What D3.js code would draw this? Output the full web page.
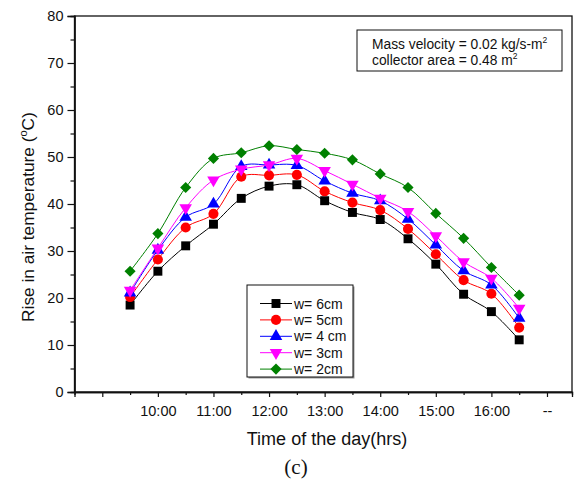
<!DOCTYPE html>
<html>
<head>
<meta charset="utf-8">
<script src="https://cdn.jsdelivr.net/npm/d3@7"></script>
<style>
  body { margin: 0; background: #fff; }
  text { font-family: Arial, "Liberation Sans", sans-serif; fill: #111; }
</style>
</head>
<body>
<div class="graph-center"></div>
<script>
// data (hours of the day, rise in air temperature in C)
let hours = [9.5, 10, 10.5, 11, 11.5, 12, 12.5, 13, 13.5, 14, 14.5, 15, 15.5, 16, 16.5]
let w6 = [18.5, 25.7, 31.1, 35.7, 41.2, 43.8, 44.1, 40.7, 38.2, 36.7, 32.6, 27.2, 20.8, 17.1, 11.1]
let w5 = [20.2, 28.2, 35.0, 37.9, 45.8, 46.1, 46.2, 42.7, 40.3, 38.7, 34.7, 29.3, 23.8, 20.9, 13.7]
let w4 = [21.1, 30.2, 37.2, 40.0, 48.0, 48.3, 48.2, 44.9, 42.3, 40.7, 36.8, 31.3, 25.8, 22.8, 15.7]
let w3 = [21.6, 30.6, 39.2, 45.1, 47.4, 48.3, 49.7, 47.1, 44.2, 41.2, 38.4, 33.2, 27.7, 24.2, 17.8]
let w2 = [25.7, 33.7, 43.5, 49.7, 50.9, 52.4, 51.6, 50.8, 49.4, 46.4, 43.5, 38.0, 32.7, 26.5, 20.6]

let seriesNames = ["w= 6cm", "w= 5cm", "w= 4 cm", "w= 3cm", "w= 2cm"]
let seriesValues = [w6, w5, w4, w3, w2]
let seriesColors = ["#000000", "#ff0000", "#0000ff", "#ff00ff", "#008000"]
let seriesShapes = ["square", "circle", "triangle", "triangleDown", "diamond"]

let xTickValues = [9, 10, 11, 12, 13, 14, 15, 16, 17]
let xTickLabels = ["", "10:00", "11:00", "12:00", "13:00", "14:00", "15:00", "16:00", "--"]
let yTickValues = [0, 10, 20, 30, 40, 50, 60, 70, 80]

let svgWidth = 579
let svgHeight = 484

// plot box in pixels
let plot = { left: 74.5, right: 572, top: 16, bottom: 392 }

let svg = d3.select('.graph-center')
    .append('svg')
    .attr('width', svgWidth)
    .attr('height', svgHeight)

// scales
let xScale = d3.scaleLinear()
    .domain([8.5, 17.45])
    .range([plot.left, plot.right])
let yScale = d3.scaleLinear()
    .domain([0, 80])
    .range([plot.bottom, plot.top])

// frame
svg.append('rect')
    .attr('x', plot.left)
    .attr('y', plot.top)
    .attr('width', plot.right - plot.left)
    .attr('height', plot.bottom - plot.top)
    .attr('fill', 'none')
    .attr('stroke', '#111')
    .attr('stroke-width', 1.3)

// axes
let xAxis = d3.axisBottom(xScale)
    .tickValues(xTickValues)
    .tickFormat((d, i) => xTickLabels[i])
    .tickSize(5)
    .tickPadding(9)
let xMinor = d3.axisBottom(xScale)
    .tickValues(d3.range(9.5, 17.4, 1))
    .tickFormat('')
    .tickSize(3)
let yAxis = d3.axisLeft(yScale)
    .tickValues(yTickValues)
    .tickSize(7)
    .tickPadding(4)
let yMinor = d3.axisLeft(yScale)
    .tickValues(d3.range(5, 80, 10))
    .tickFormat('')
    .tickSize(4)

svg.append('g')
    .attr('id', 'x-axis')
    .attr('transform', `translate(0,${plot.bottom})`)
    .call(xAxis)
svg.append('g')
    .attr('transform', `translate(0,${plot.bottom})`)
    .call(xMinor)
svg.append('g')
    .attr('id', 'y-axis')
    .attr('transform', `translate(${plot.left},0)`)
    .call(yAxis)
svg.append('g')
    .attr('transform', `translate(${plot.left},0)`)
    .call(yMinor)

svg.selectAll('.domain').attr('stroke', '#111').attr('stroke-width', 1.3)
svg.selectAll('.tick line').attr('stroke', '#111').attr('stroke-width', 1.2)
svg.selectAll('.tick text')
    .attr('font-size', 14.5)
    .attr('font-family', 'Arial, "Liberation Sans", sans-serif')
    .attr('fill', '#111')

// marker paths
function markerPath(shape) {
    if (shape === 'square') return d3.symbol(d3.symbolSquare, 80)()
    if (shape === 'circle') return d3.symbol(d3.symbolCircle, 80)()
    if (shape === 'triangle' || shape === 'triangleDown') return d3.symbol(d3.symbolTriangle, 68)()
    return d3.symbol(d3.symbolSquare, 62)()
}
function markerRotate(shape) {
    if (shape === 'triangleDown') return 180
    if (shape === 'diamond') return 45
    return 0
}

let line = d3.line()
    .x((d, i) => xScale(hours[i]))
    .y(d => yScale(d))
    .curve(d3.curveCatmullRom.alpha(0.5))

seriesValues.forEach((vals, s) => {
    let g = svg.append('g')
    g.append('path')
        .attr('d', line(vals))
        .attr('fill', 'none')
        .attr('stroke', seriesColors[s])
        .attr('stroke-width', 1)
    g.selectAll('path.mark')
        .data(vals)
        .join('path')
        .attr('class', 'mark')
        .attr('d', markerPath(seriesShapes[s]))
        .attr('transform', (d, i) => `translate(${xScale(hours[i])},${yScale(d)}) rotate(${markerRotate(seriesShapes[s])})`)
        .attr('fill', seriesColors[s])
})

// legend
let legend = svg.append('g').attr('transform', 'translate(247,285)')
legend.append('rect')
    .attr('x', 1.5).attr('y', 1.5)
    .attr('width', 106).attr('height', 92)
    .attr('fill', '#999')
legend.append('rect')
    .attr('width', 106).attr('height', 92)
    .attr('fill', '#fff')
    .attr('stroke', '#111')
    .attr('stroke-width', 1)
seriesNames.forEach((name, s) => {
    let yy = 18.5 + s * 16.4
    legend.append('line')
        .attr('x1', 13).attr('x2', 45)
        .attr('y1', yy).attr('y2', yy)
        .attr('stroke', seriesColors[s])
        .attr('stroke-width', 1)
    legend.append('path')
        .attr('d', markerPath(seriesShapes[s]))
        .attr('transform', `translate(29,${yy}) rotate(${markerRotate(seriesShapes[s])})`)
        .attr('fill', seriesColors[s])
    legend.append('text')
        .attr('x', 47).attr('y', yy + 5)
        .attr('font-size', 14)
        .text(name)
})

// annotation box
let note = svg.append('g').attr('transform', 'translate(357,30)')
note.append('rect')
    .attr('width', 205).attr('height', 41)
    .attr('fill', '#fff')
    .attr('stroke', '#111')
    .attr('stroke-width', 1)
let t1 = note.append('text').attr('x', 15).attr('y', 18.5).attr('font-size', 13.8)
t1.append('tspan').text('Mass velocity = 0.02 kg/s-m')
t1.append('tspan').attr('dy', -6).attr('font-size', 8.5).text('2')
let t2 = note.append('text').attr('x', 15).attr('y', 34.5).attr('font-size', 13.8)
t2.append('tspan').text('collector area = 0.48 m')
t2.append('tspan').attr('dy', -6).attr('font-size', 8.5).text('2')

// axis titles
let yTitle = svg.append('text')
    .attr('transform', 'translate(34,217) rotate(-90)')
    .attr('text-anchor', 'middle')
    .attr('font-size', 17.3)
yTitle.append('tspan').text('Rise in air temperature (')
yTitle.append('tspan').attr('dy', -7).attr('font-size', 11).text('o')
yTitle.append('tspan').attr('dy', 7).text('C)')

svg.append('text')
    .attr('x', 327).attr('y', 445)
    .attr('text-anchor', 'middle')
    .attr('font-size', 18)
    .text('Time of the day(hrs)')

svg.append('text')
    .attr('x', 296).attr('y', 474)
    .attr('text-anchor', 'middle')
    .attr('font-size', 21)
    .style('font-family', '"Liberation Serif", "DejaVu Serif", serif')
    .text('(c)')
</script>
</body>
</html>
